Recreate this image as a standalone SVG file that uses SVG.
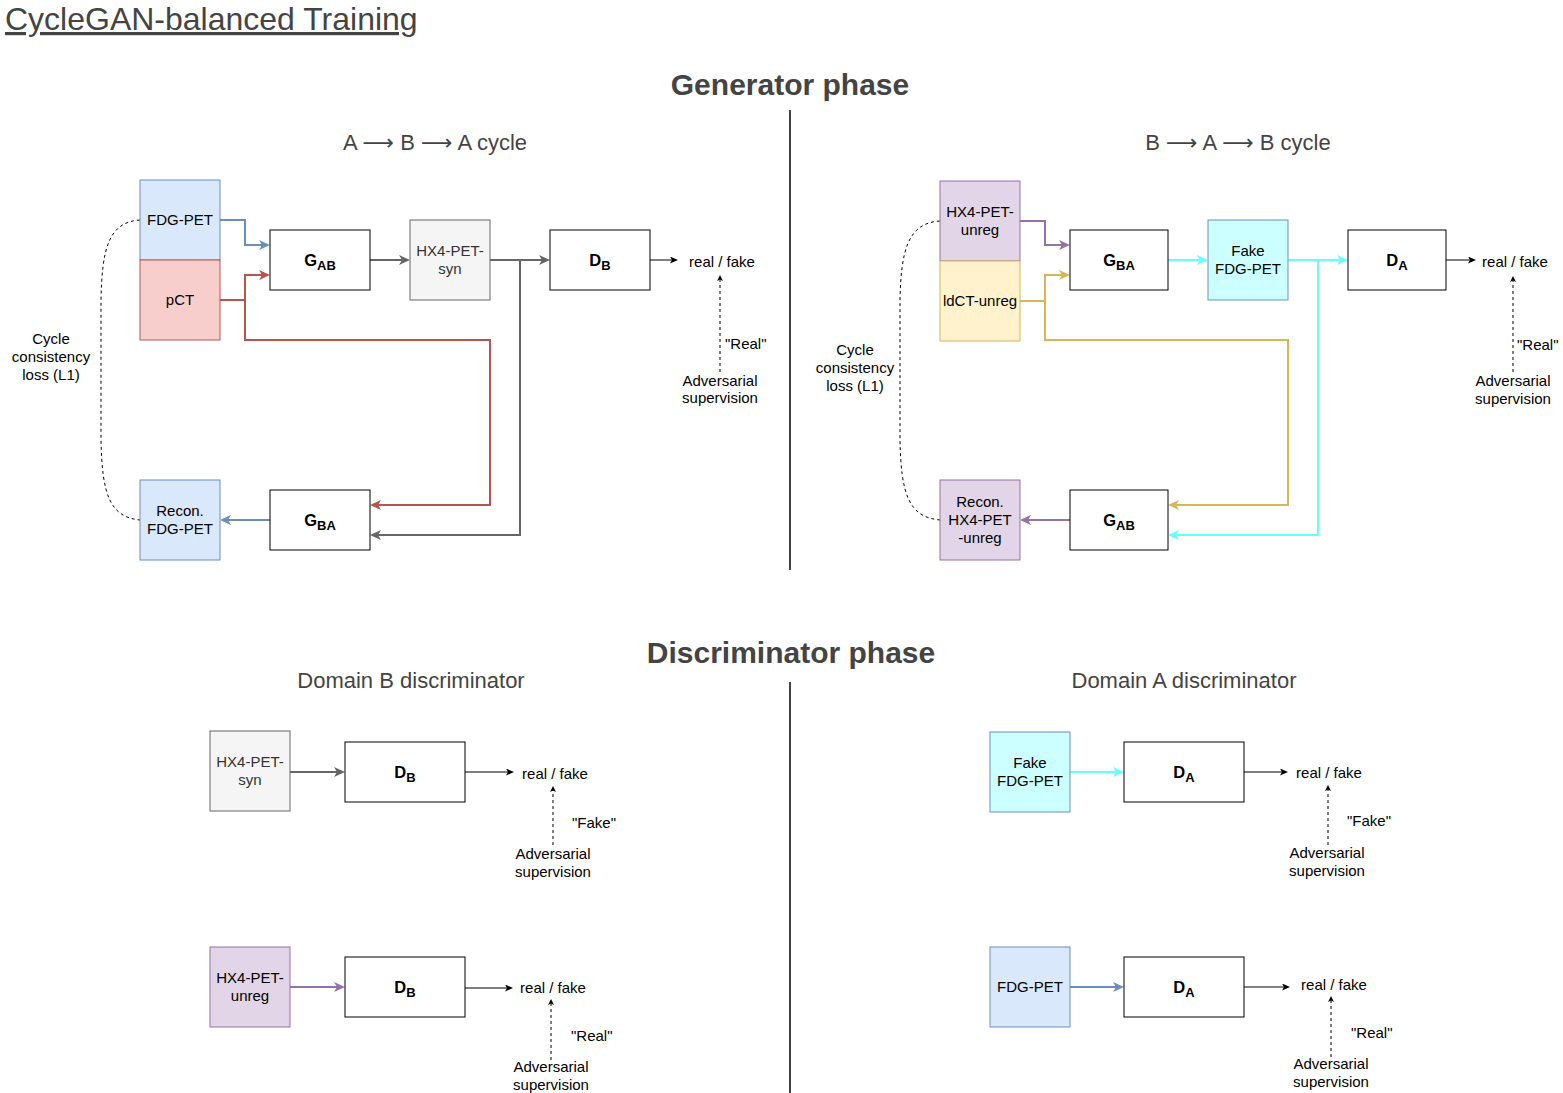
<svg xmlns="http://www.w3.org/2000/svg" width="1563" height="1093" viewBox="0 0 1563 1093">
<style>
text{font-family:"Liberation Sans",Arial,Helvetica,sans-serif;font-size:15px;fill:#000}
.title{font-size:32px;fill:#444;text-decoration:underline}
.phase{font-size:30px;font-weight:bold;fill:#444}
.sub{font-size:22px;fill:#444}
.arr{font-family:"DejaVu Sans","Liberation Sans",sans-serif}
.c{text-anchor:middle}
.g{font-size:16.5px;font-weight:bold;text-anchor:middle}
.s{font-size:13px;font-weight:bold}
.box{fill:#fff;stroke:#000;stroke-width:1}
.blueN{fill:#dae8fc;stroke:#6c8ebf}
.redN{fill:#f8cecc;stroke:#b85450}
.grayN{fill:#f5f5f5;stroke:#666}
.purN{fill:#e1d5e7;stroke:#9673a6}
.yelN{fill:#fff2cc;stroke:#d6b656}
.cyaN{fill:#ccffff;stroke:#6c8ebf}
.e{fill:none;stroke-width:2}
.eb{stroke:#6c8ebf}.er{stroke:#b85450}.eg{stroke:#666}.ep{stroke:#9673a6}.ey{stroke:#d6b656}.ec{stroke:#66ffff}
.k{fill:none;stroke:#000;stroke-width:1}
.d{fill:none;stroke:#000;stroke-width:1;stroke-dasharray:3 3}
.div{stroke:#444;stroke-width:2}
</style>
<defs>
<marker id="mb" markerUnits="userSpaceOnUse" markerWidth="11" markerHeight="10" refX="6" refY="5" orient="auto"><path d="M0,0 L11,5 L0,10 L3,5 Z" fill="#6c8ebf"/></marker>
<marker id="mr" markerUnits="userSpaceOnUse" markerWidth="11" markerHeight="10" refX="6" refY="5" orient="auto"><path d="M0,0 L11,5 L0,10 L3,5 Z" fill="#b85450"/></marker>
<marker id="mg" markerUnits="userSpaceOnUse" markerWidth="11" markerHeight="10" refX="6" refY="5" orient="auto"><path d="M0,0 L11,5 L0,10 L3,5 Z" fill="#666"/></marker>
<marker id="mp" markerUnits="userSpaceOnUse" markerWidth="11" markerHeight="10" refX="6" refY="5" orient="auto"><path d="M0,0 L11,5 L0,10 L3,5 Z" fill="#9673a6"/></marker>
<marker id="my" markerUnits="userSpaceOnUse" markerWidth="11" markerHeight="10" refX="6" refY="5" orient="auto"><path d="M0,0 L11,5 L0,10 L3,5 Z" fill="#d6b656"/></marker>
<marker id="mc" markerUnits="userSpaceOnUse" markerWidth="11" markerHeight="10" refX="6" refY="5" orient="auto"><path d="M0,0 L11,5 L0,10 L3,5 Z" fill="#66ffff"/></marker>
<marker id="mk" markerUnits="userSpaceOnUse" markerWidth="8" markerHeight="7" refX="4" refY="3.5" orient="auto"><path d="M0,0 L8,3.5 L0,7 L2,3.5 Z" fill="#000"/></marker>
<marker id="md" markerUnits="userSpaceOnUse" markerWidth="6" markerHeight="6" refX="3" refY="3" orient="auto"><path d="M0,0 L6,3 L0,6 L1.5,3 Z" fill="#000"/></marker>
</defs>

<g id="headings">
<text class="title" x="5" y="30">CycleGAN-balanced Training</text>
<text class="phase c" x="790" y="95">Generator phase</text>
<text class="sub c" x="435" y="150">A <tspan class="arr">⟶</tspan> B <tspan class="arr">⟶</tspan> A cycle</text>
<text class="sub c" x="1238" y="150">B <tspan class="arr">⟶</tspan> A <tspan class="arr">⟶</tspan> B cycle</text>
<text class="phase c" x="791" y="663">Discriminator phase</text>
<text class="sub c" x="411" y="688">Domain B discriminator</text>
<text class="sub c" x="1184" y="688">Domain A discriminator</text>
<line class="div" x1="790" y1="110" x2="790" y2="570"/>
<line class="div" x1="790" y1="682" x2="790" y2="1093"/>
</g>

<g id="connectors">
<!-- generator A->B->A -->
<path class="e eb" d="M220,220 H245 V245 H265" marker-end="url(#mb)"/>
<path class="e er" d="M220,300 H245 V275 H265" marker-end="url(#mr)"/>
<path class="e er" d="M245,300 V340 H490 V505 H375" marker-end="url(#mr)"/>
<path class="e eg" d="M370,260 H405" marker-end="url(#mg)"/>
<path class="e eg" d="M490,260 H545" marker-end="url(#mg)"/>
<path class="e eg" d="M520,260 V535 H375" marker-end="url(#mg)"/>
<path class="e eb" d="M270,520 H225" marker-end="url(#mb)"/>
<path class="k" d="M650,260 H674" marker-end="url(#mk)"/>
<path class="d" d="M720,372 V278" marker-end="url(#md)"/>
<path class="d" d="M140,220 C108,222 102,250 101,300 L101,440 C102,495 110,517 140,520"/>
<!-- generator B->A->B -->
<path class="e ep" d="M1020,221 H1045 V245 H1065" marker-end="url(#mp)"/>
<path class="e ey" d="M1020,301 H1045 V275 H1065" marker-end="url(#my)"/>
<path class="e ey" d="M1045,301 V340 H1288 V505 H1173" marker-end="url(#my)"/>
<path class="e ec" d="M1168,260 H1203" marker-end="url(#mc)"/>
<path class="e ec" d="M1288,260 H1343" marker-end="url(#mc)"/>
<path class="e ec" d="M1318,260 V535 H1173" marker-end="url(#mc)"/>
<path class="e ep" d="M1070,520 H1025" marker-end="url(#mp)"/>
<path class="k" d="M1446,260 H1472" marker-end="url(#mk)"/>
<path class="d" d="M1513,372 V279" marker-end="url(#md)"/>
<path class="d" d="M940,221 C908,223 901,250 900,300 L900,440 C901,495 909,517 940,520"/>
<!-- discriminator -->
<path class="e eg" d="M290,772 H340" marker-end="url(#mg)"/>
<path class="k" d="M465,772 H510" marker-end="url(#mk)"/>
<path class="d" d="M553,845 V789" marker-end="url(#md)"/>
<path class="e ep" d="M290,987 H340" marker-end="url(#mp)"/>
<path class="k" d="M465,988 H509" marker-end="url(#mk)"/>
<path class="d" d="M551,1060 V1002" marker-end="url(#md)"/>
<path class="e ec" d="M1070,772 H1119" marker-end="url(#mc)"/>
<path class="k" d="M1244,772 H1284" marker-end="url(#mk)"/>
<path class="d" d="M1328,845 V788" marker-end="url(#md)"/>
<path class="e eb" d="M1070,987 H1119" marker-end="url(#mb)"/>
<path class="k" d="M1244,987 H1286" marker-end="url(#mk)"/>
<path class="d" d="M1331,1057 V999" marker-end="url(#md)"/>
</g>

<g id="labels">
<text class="c"><tspan x="51" y="344">Cycle</tspan><tspan x="51" y="362">consistency</tspan><tspan x="51" y="380">loss (L1)</tspan></text>
<text class="c"><tspan x="855" y="355">Cycle</tspan><tspan x="855" y="373">consistency</tspan><tspan x="855" y="391">loss (L1)</tspan></text>
<text class="c" x="722" y="267">real / fake</text>
<text x="725" y="349">"Real"</text>
<text class="c"><tspan x="720" y="386">Adversarial</tspan><tspan x="720" y="403">supervision</tspan></text>
<text class="c" x="1515" y="267">real / fake</text>
<text x="1517" y="350">"Real"</text>
<text class="c"><tspan x="1513" y="386">Adversarial</tspan><tspan x="1513" y="404">supervision</tspan></text>
<text class="c" x="555" y="779">real / fake</text>
<text x="572" y="828">"Fake"</text>
<text class="c"><tspan x="553" y="859">Adversarial</tspan><tspan x="553" y="877">supervision</tspan></text>
<text class="c" x="553" y="993">real / fake</text>
<text x="571" y="1041">"Real"</text>
<text class="c"><tspan x="551" y="1072">Adversarial</tspan><tspan x="551" y="1090">supervision</tspan></text>
<text class="c" x="1329" y="778">real / fake</text>
<text x="1347" y="826">"Fake"</text>
<text class="c"><tspan x="1327" y="858">Adversarial</tspan><tspan x="1327" y="876">supervision</tspan></text>
<text class="c" x="1334" y="990">real / fake</text>
<text x="1351" y="1038">"Real"</text>
<text class="c"><tspan x="1331" y="1069">Adversarial</tspan><tspan x="1331" y="1087">supervision</tspan></text>
</g>

<g id="fdg-pet"><rect class="blueN" x="140" y="180" width="80" height="80"/><text class="c" x="180" y="225">FDG-PET</text></g>
<g id="pct"><rect class="redN" x="140" y="260" width="80" height="80"/><text class="c" x="180" y="305">pCT</text></g>
<g id="gab1"><rect class="box" x="270" y="230" width="100" height="60"/><text class="g" x="320" y="266">G<tspan class="s" dy="4">AB</tspan></text></g>
<g id="hx4syn1"><rect class="grayN" x="410" y="220" width="80" height="80"/><text class="c" style="fill:#333"><tspan x="450" y="256">HX4-PET-</tspan><tspan x="450" y="274">syn</tspan></text></g>
<g id="db1"><rect class="box" x="550" y="230" width="100" height="60"/><text class="g" x="600" y="266">D<tspan class="s" dy="4">B</tspan></text></g>
<g id="recon-fdg"><rect class="blueN" x="140" y="480" width="80" height="80"/><text class="c"><tspan x="180" y="516">Recon.</tspan><tspan x="180" y="534">FDG-PET</tspan></text></g>
<g id="gba1"><rect class="box" x="270" y="490" width="100" height="60"/><text class="g" x="320" y="526">G<tspan class="s" dy="4">BA</tspan></text></g>

<g id="hx4unreg1"><rect class="purN" x="940" y="181" width="80" height="80"/><text class="c"><tspan x="980" y="217">HX4-PET-</tspan><tspan x="980" y="235">unreg</tspan></text></g>
<g id="ldct"><rect class="yelN" x="940" y="261" width="80" height="80"/><text class="c" x="980" y="306">ldCT-unreg</text></g>
<g id="gba2"><rect class="box" x="1070" y="230" width="98" height="60"/><text class="g" x="1119" y="266">G<tspan class="s" dy="4">BA</tspan></text></g>
<g id="fakefdg1"><rect class="cyaN" x="1208" y="220" width="80" height="80"/><text class="c"><tspan x="1248" y="256">Fake</tspan><tspan x="1248" y="274">FDG-PET</tspan></text></g>
<g id="da1"><rect class="box" x="1348" y="230" width="98" height="60"/><text class="g" x="1397" y="266">D<tspan class="s" dy="4">A</tspan></text></g>
<g id="recon-hx4"><rect class="purN" x="940" y="480" width="80" height="80"/><text class="c"><tspan x="980" y="507">Recon.</tspan><tspan x="980" y="525">HX4-PET</tspan><tspan x="980" y="543">-unreg</tspan></text></g>
<g id="gab2"><rect class="box" x="1070" y="490" width="98" height="60"/><text class="g" x="1119" y="526">G<tspan class="s" dy="4">AB</tspan></text></g>

<g id="hx4syn2"><rect class="grayN" x="210" y="731" width="80" height="80"/><text class="c" style="fill:#333"><tspan x="250" y="767">HX4-PET-</tspan><tspan x="250" y="785">syn</tspan></text></g>
<g id="db2"><rect class="box" x="345" y="742" width="120" height="60"/><text class="g" x="405" y="778">D<tspan class="s" dy="4">B</tspan></text></g>
<g id="hx4unreg2"><rect class="purN" x="210" y="947" width="80" height="80"/><text class="c"><tspan x="250" y="983">HX4-PET-</tspan><tspan x="250" y="1001">unreg</tspan></text></g>
<g id="db3"><rect class="box" x="345" y="957" width="120" height="60"/><text class="g" x="405" y="993">D<tspan class="s" dy="4">B</tspan></text></g>
<g id="fakefdg2"><rect class="cyaN" x="990" y="732" width="80" height="80"/><text class="c"><tspan x="1030" y="768">Fake</tspan><tspan x="1030" y="786">FDG-PET</tspan></text></g>
<g id="da2"><rect class="box" x="1124" y="742" width="120" height="60"/><text class="g" x="1184" y="778">D<tspan class="s" dy="4">A</tspan></text></g>
<g id="fdg-pet2"><rect class="blueN" x="990" y="947" width="80" height="80"/><text class="c" x="1030" y="992">FDG-PET</text></g>
<g id="da3"><rect class="box" x="1124" y="957" width="120" height="60"/><text class="g" x="1184" y="993">D<tspan class="s" dy="4">A</tspan></text></g>
</svg>
